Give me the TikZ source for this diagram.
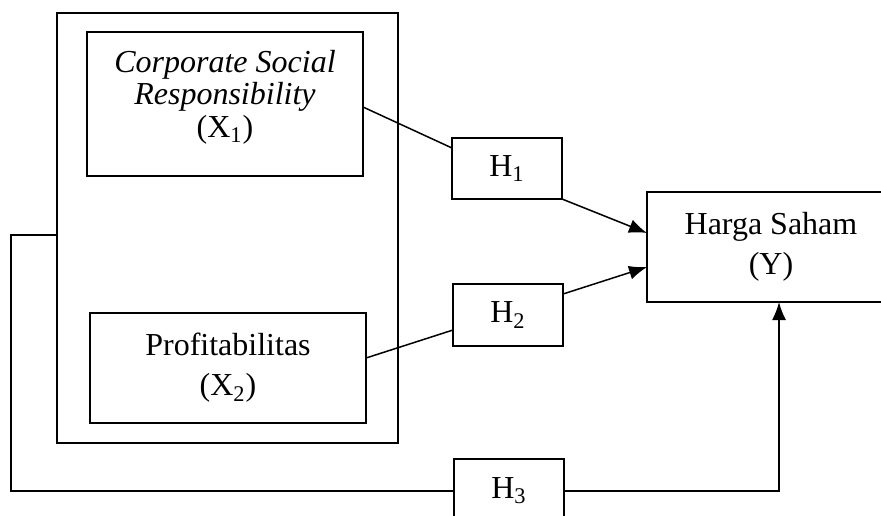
\documentclass[tikz,border=0pt]{standalone}
\usepackage{fontspec}
\setmainfont{Liberation Serif}
\usetikzlibrary{arrows.meta,calc}
\begin{document}
\begin{tikzpicture}[x=0.5pt,y=-0.5pt,
  box/.style={draw,line width=0.75pt,inner sep=0pt,outer sep=0pt,align=center,
    font=\fontsize{16}{20}\selectfont},
  txt/.style={inner sep=0pt,align=center},
  conn/.style={line width=0.75pt},
  arr/.style={line width=0.75pt,-{Latex[length=9pt,width=7pt]}}]
\useasboundingbox (0,0) rectangle (881,515);
\node[draw,line width=1.15pt,inner sep=0pt,outer sep=0pt,minimum width=170.5pt,minimum height=215pt] (outer) at (227.5,228) {};
\node[box,minimum width=138pt,minimum height=72pt] (csr) at (225,104) {};
\node[txt,font=\fontsize{16}{16.3}\selectfont] (csrtext) at (225,97)
  {\textit{Corporate Social}\\\textit{Responsibility}\\(X\textsubscript{1})};
\node[box,minimum width=138pt,minimum height=55pt] (prof) at (228,368)
  {Profitabilitas\\(X\textsubscript{2})};
\node[box,minimum width=55pt,minimum height=30.5pt] (h1) at (507,168.5) {H\textsubscript{1}};
\node[box,minimum width=55pt,minimum height=31pt] (h2) at (508,315) {H\textsubscript{2}};
\node[box,minimum width=55pt,minimum height=32pt] (h3) at (509,491) {H\textsubscript{3}};
\node[box,minimum width=124pt,minimum height=55pt] (harga) at (771,247) {Harga Saham\\(Y)};
\coordinate (lt) at (11,235);
\coordinate (lb) at (11,491);
\draw[conn] ([yshift=-1.5pt]csr.east) -- ([yshift=10.25pt]h1.west);
\draw[arr] (h1.south east) -- ([yshift=7pt]harga.west);
\draw[conn] ([yshift=5pt]prof.east) -- ([yshift=-7.5pt]h2.west);
\draw[arr] ([yshift=10.5pt]h2.east) -- ([yshift=-10pt]harga.west);
\draw[conn] ([yshift=-3.5pt]outer.west) -- (lt) -- (lb) -- (h3.west);
\draw[arr] (h3.east) -| ([xshift=4pt]harga.south);
\end{tikzpicture}
\end{document}
